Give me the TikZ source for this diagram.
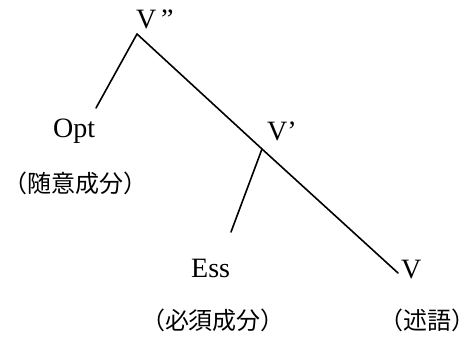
\documentclass[tikz,border=0pt]{standalone}
\usepackage{fontspec}
\setmainfont{Liberation Serif}
\newfontfamily\jpfont{Noto Sans CJK JP}

\tikzset{
	cat/.style={inner sep=0pt, anchor=base west, font=\fontsize{28}{32}\selectfont},
	role/.style={inner sep=0pt, font=\jpfont\fontsize{24}{28}\selectfont},
	branch/.style={line width=1.6pt, line cap=round}
}

\begin{document}
\begin{tikzpicture}[x=1pt,y=-1pt]
		\useasboundingbox (0,0) rectangle (475,340);

		% categories
		\node[cat] (vpp) at (136,28) {V\,”};
		\node[cat] (vp) at (267,140) {V’};
		\node[cat] (opt) at (53,137) {Opt};
		\node[cat] (ess) at (191,277) {Ess};
		\node[cat] (v) at (401,278) {V};

		% branch points and ends
		\coordinate (top) at (137,34);
		\coordinate (mid) at (262,149);
		\coordinate (optend) at (96,108);
		\coordinate (essend) at (231,232);
		\coordinate (vend) at (398,273);

		\draw[branch] (top) -- (optend);
		\draw[branch] (top) -- (mid) -- (vend);
		\draw[branch] (mid) -- (essend);

		% roles
		\node[role] (optrole) at (76,183) {（随意成分）};
		\node[role] (essrole) at (213,320) {（必須成分）};
		\node[role] (vrole) at (427,320) {（述語）};
	\end{tikzpicture}
\end{document}
